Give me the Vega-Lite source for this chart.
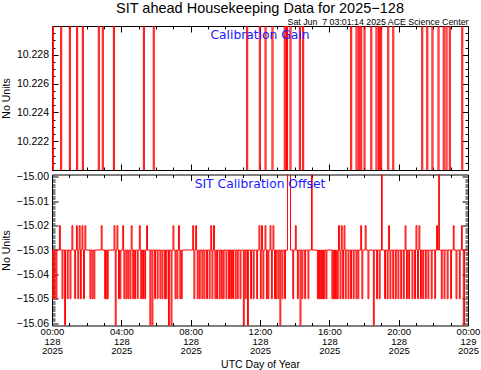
{
  "$schema": "https://vega.github.io/schema/vega-lite/v6.json",
  "background": "white",
  "padding": {"left": 1, "top": 0, "right": 5, "bottom": 0},
  "bounds": "flush",
  "spacing": 4.5,
  "config": {
    "font": "Liberation Sans",
    "view": {"stroke": null},
    "axis": {"labelFont": "Liberation Sans", "labelFontSize": 10.5, "titleFont": "Liberation Sans", "titleFontSize": 10.5, "titleFontWeight": "normal", "domainColor": "black", "tickColor": "black", "labelColor": "black", "titleColor": "black", "grid": false, "zindex": 1, "labelFlush": false, "labelOverlap": false, "labelBound": false, "tickWidth": 1, "domainWidth": 1}
  },
  "title": {"text": "SIT ahead Housekeeping Data for 2025−128", "fontSize": 14.5, "fontWeight": "normal", "anchor": "middle", "font": "Liberation Sans", "offset": 2, "frame": "group"},
  "datasets": {
    "gain": [
      {"h":0,"v":10.219},
      {"h":0.02,"v":10.231},{"h":0.08,"v":10.219},
      {"h":0.5,"v":10.231},{"h":0.56,"v":10.219},
      {"h":1.0,"v":10.231},{"h":1.06,"v":10.219},
      {"h":1.42,"v":10.231},{"h":1.48,"v":10.219},
      {"h":1.75,"v":10.231},{"h":1.81,"v":10.219},
      {"h":2.67,"v":10.231},{"h":2.73,"v":10.219},
      {"h":2.9,"v":10.231},{"h":2.96,"v":10.219},
      {"h":3.54,"v":10.231},{"h":3.6,"v":10.219},
      {"h":5.27,"v":10.231},{"h":5.33,"v":10.219},
      {"h":5.84,"v":10.231},{"h":5.9,"v":10.219},
      {"h":11.23,"v":10.231},{"h":11.29,"v":10.219},
      {"h":11.96,"v":10.231},{"h":12.02,"v":10.219},
      {"h":12.29,"v":10.231},{"h":12.35,"v":10.219},
      {"h":12.69,"v":10.231},{"h":12.75,"v":10.219},
      {"h":13.4,"v":10.231},{"h":13.46,"v":10.219},
      {"h":13.53,"v":10.231},{"h":13.59,"v":10.219},
      {"h":13.73,"v":10.231},{"h":13.79,"v":10.219},
      {"h":14.27,"v":10.231},{"h":14.33,"v":10.219},
      {"h":14.46,"v":10.231},{"h":14.52,"v":10.219},
      {"h":17.23,"v":10.231},{"h":17.29,"v":10.219},
      {"h":17.54,"v":10.231},{"h":17.6,"v":10.219},
      {"h":17.67,"v":10.231},{"h":17.73,"v":10.219},
      {"h":17.81,"v":10.231},{"h":17.87,"v":10.219},
      {"h":18.0,"v":10.231},{"h":18.06,"v":10.219},
      {"h":18.39,"v":10.231},{"h":18.45,"v":10.219},
      {"h":18.69,"v":10.231},{"h":18.75,"v":10.219},
      {"h":18.83,"v":10.231},{"h":18.89,"v":10.219},
      {"h":18.96,"v":10.231},{"h":19.02,"v":10.219},
      {"h":19.37,"v":10.231},{"h":19.43,"v":10.219},
      {"h":19.66,"v":10.231},{"h":19.72,"v":10.219},
      {"h":21.33,"v":10.231},{"h":21.39,"v":10.219},
      {"h":21.62,"v":10.231},{"h":21.68,"v":10.219},
      {"h":21.92,"v":10.231},{"h":21.98,"v":10.219},
      {"h":22.27,"v":10.231},{"h":22.33,"v":10.219},
      {"h":22.57,"v":10.231},{"h":22.63,"v":10.219},
      {"h":22.73,"v":10.231},{"h":22.79,"v":10.219},
      {"h":22.92,"v":10.231},{"h":22.98,"v":10.219},
      {"h":23.64,"v":10.231},{"h":23.7,"v":10.219},
      {"h":24,"v":10.219}
    ],
    "offset": [
      {"h":0,"v":-15.03},
      {"h":0.02,"v":-15.05},{"h":0.07,"v":-15.03},
      {"h":0.12,"v":-15.05},{"h":0.17,"v":-15.03},
      {"h":0.23,"v":-15.05},{"h":0.28,"v":-15.03},
      {"h":0.43,"v":-15.02},{"h":0.48,"v":-15.03},
      {"h":0.58,"v":-15.05},{"h":0.63,"v":-15.03},
      {"h":0.73,"v":-15.07},{"h":0.78,"v":-15.03},
      {"h":0.88,"v":-15.05},{"h":0.93,"v":-15.03},
      {"h":1.04,"v":-15.05},{"h":1.09,"v":-15.03},
      {"h":1.15,"v":-15.02},{"h":1.2,"v":-15.03},
      {"h":1.31,"v":-15.05},{"h":1.36,"v":-15.03},
      {"h":1.41,"v":-15.02},{"h":1.46,"v":-15.03},
      {"h":1.49,"v":-15.05},{"h":1.54,"v":-15.03},
      {"h":1.57,"v":-15.02},{"h":1.62,"v":-15.03},
      {"h":1.64,"v":-15.05},{"h":1.69,"v":-15.03},
      {"h":1.73,"v":-15.02},{"h":1.78,"v":-15.03},
      {"h":1.82,"v":-15.05},{"h":1.87,"v":-15.03},
      {"h":1.9,"v":-15.02},{"h":1.95,"v":-15.03},
      {"h":2.19,"v":-15.05},{"h":2.24,"v":-15.03},
      {"h":2.31,"v":-15.05},{"h":2.36,"v":-15.03},
      {"h":2.42,"v":-15.05},{"h":2.47,"v":-15.03},
      {"h":2.84,"v":-15.02},{"h":2.89,"v":-15.03},
      {"h":3.04,"v":-15.05},{"h":3.09,"v":-15.03},
      {"h":3.12,"v":-15.05},{"h":3.17,"v":-15.03},
      {"h":3.19,"v":-15.05},{"h":3.24,"v":-15.03},
      {"h":3.58,"v":-15.02},{"h":3.63,"v":-15.03},
      {"h":3.65,"v":-15.07},{"h":3.7,"v":-15.03},
      {"h":3.75,"v":-15.02},{"h":3.8,"v":-15.03},
      {"h":3.84,"v":-15.05},{"h":3.89,"v":-15.03},
      {"h":3.92,"v":-15.05},{"h":3.97,"v":-15.03},
      {"h":4.08,"v":-15.02},{"h":4.13,"v":-15.03},
      {"h":4.15,"v":-15.05},{"h":4.2,"v":-15.03},
      {"h":4.27,"v":-15.05},{"h":4.32,"v":-15.03},
      {"h":4.38,"v":-15.05},{"h":4.43,"v":-15.03},
      {"h":4.5,"v":-15.05},{"h":4.55,"v":-15.03},
      {"h":4.57,"v":-15.02},{"h":4.62,"v":-15.03},
      {"h":4.66,"v":-15.05},{"h":4.71,"v":-15.03},
      {"h":4.77,"v":-15.05},{"h":4.82,"v":-15.03},
      {"h":4.92,"v":-15.05},{"h":4.97,"v":-15.03},
      {"h":5.04,"v":-15.02},{"h":5.09,"v":-15.03},
      {"h":5.12,"v":-15.05},{"h":5.17,"v":-15.03},
      {"h":5.23,"v":-15.05},{"h":5.28,"v":-15.03},
      {"h":5.35,"v":-15.05},{"h":5.4,"v":-15.03},
      {"h":5.46,"v":-15.02},{"h":5.51,"v":-15.03},
      {"h":5.65,"v":-15.07},{"h":5.7,"v":-15.03},
      {"h":5.77,"v":-15.07},{"h":5.82,"v":-15.03},
      {"h":5.92,"v":-15.05},{"h":5.97,"v":-15.03},
      {"h":6.07,"v":-15.05},{"h":6.12,"v":-15.03},
      {"h":6.23,"v":-15.05},{"h":6.28,"v":-15.03},
      {"h":6.35,"v":-15.05},{"h":6.4,"v":-15.03},
      {"h":6.5,"v":-15.05},{"h":6.55,"v":-15.03},
      {"h":6.58,"v":-15.05},{"h":6.63,"v":-15.03},
      {"h":6.72,"v":-15.07},{"h":6.77,"v":-15.03},
      {"h":6.87,"v":-15.07},{"h":6.92,"v":-15.03},
      {"h":6.98,"v":-15.02},{"h":7.03,"v":-15.03},
      {"h":7.1,"v":-15.05},{"h":7.15,"v":-15.03},
      {"h":7.21,"v":-15.05},{"h":7.26,"v":-15.03},
      {"h":7.3,"v":-15.02},{"h":7.35,"v":-15.03},
      {"h":7.38,"v":-15.05},{"h":7.43,"v":-15.03},
      {"h":7.46,"v":-15.05},{"h":7.51,"v":-15.03},
      {"h":8.12,"v":-15.02},{"h":8.17,"v":-15.03},
      {"h":8.19,"v":-15.05},{"h":8.24,"v":-15.03},
      {"h":8.29,"v":-15.02},{"h":8.34,"v":-15.03},
      {"h":8.38,"v":-15.05},{"h":8.43,"v":-15.03},
      {"h":8.5,"v":-15.05},{"h":8.55,"v":-15.03},
      {"h":8.65,"v":-15.05},{"h":8.7,"v":-15.03},
      {"h":8.77,"v":-15.05},{"h":8.82,"v":-15.03},
      {"h":8.92,"v":-15.05},{"h":8.97,"v":-15.03},
      {"h":9.07,"v":-15.05},{"h":9.12,"v":-15.03},
      {"h":9.16,"v":-15.02},{"h":9.21,"v":-15.03},
      {"h":9.23,"v":-15.05},{"h":9.28,"v":-15.03},
      {"h":9.32,"v":-15.02},{"h":9.37,"v":-15.03},
      {"h":9.4,"v":-15.05},{"h":9.45,"v":-15.03},
      {"h":9.5,"v":-15.05},{"h":9.55,"v":-15.03},
      {"h":9.65,"v":-15.05},{"h":9.7,"v":-15.03},
      {"h":9.77,"v":-15.05},{"h":9.82,"v":-15.03},
      {"h":9.88,"v":-15.05},{"h":9.93,"v":-15.03},
      {"h":10.04,"v":-15.05},{"h":10.09,"v":-15.03},
      {"h":10.19,"v":-15.05},{"h":10.24,"v":-15.03},
      {"h":10.31,"v":-15.05},{"h":10.36,"v":-15.03},
      {"h":10.42,"v":-15.05},{"h":10.47,"v":-15.03},
      {"h":10.57,"v":-15.05},{"h":10.62,"v":-15.03},
      {"h":10.69,"v":-15.05},{"h":10.74,"v":-15.03},
      {"h":10.85,"v":-15.05},{"h":10.9,"v":-15.03},
      {"h":11.04,"v":-15.07},{"h":11.09,"v":-15.03},
      {"h":11.15,"v":-15.05},{"h":11.2,"v":-15.03},
      {"h":11.28,"v":-15.07},{"h":11.33,"v":-15.03},
      {"h":11.46,"v":-15.05},{"h":11.51,"v":-15.03},
      {"h":11.61,"v":-15.05},{"h":11.66,"v":-15.03},
      {"h":11.81,"v":-15.05},{"h":11.86,"v":-15.03},
      {"h":11.94,"v":-15.02},{"h":11.99,"v":-15.03},
      {"h":12.02,"v":-15.05},{"h":12.07,"v":-15.03},
      {"h":12.09,"v":-15.02},{"h":12.14,"v":-15.03},
      {"h":12.17,"v":-15.05},{"h":12.22,"v":-15.03},
      {"h":12.29,"v":-15.02},{"h":12.34,"v":-15.03},
      {"h":12.37,"v":-15.05},{"h":12.42,"v":-15.03},
      {"h":12.46,"v":-15.05},{"h":12.51,"v":-15.03},
      {"h":12.58,"v":-15.02},{"h":12.63,"v":-15.03},
      {"h":12.66,"v":-15.05},{"h":12.71,"v":-15.03},
      {"h":12.75,"v":-15.02},{"h":12.8,"v":-15.03},
      {"h":12.84,"v":-15.05},{"h":12.89,"v":-15.03},
      {"h":12.92,"v":-15.05},{"h":12.97,"v":-15.03},
      {"h":13.04,"v":-15.05},{"h":13.09,"v":-15.03},
      {"h":13.15,"v":-15.07},{"h":13.2,"v":-15.03},
      {"h":13.27,"v":-15.05},{"h":13.32,"v":-15.03},
      {"h":13.42,"v":-15.05},{"h":13.47,"v":-15.03},
      {"h":13.59,"v":-14.99},{"h":13.76,"v":-15.03},
      {"h":13.89,"v":-15.05},{"h":13.94,"v":-15.03},
      {"h":14.04,"v":-15.02},{"h":14.09,"v":-15.03},
      {"h":14.16,"v":-15.05},{"h":14.21,"v":-15.03},
      {"h":14.31,"v":-15.07},{"h":14.36,"v":-15.03},
      {"h":14.42,"v":-15.05},{"h":14.47,"v":-15.03},
      {"h":14.58,"v":-15.05},{"h":14.63,"v":-15.03},
      {"h":14.77,"v":-15.05},{"h":14.82,"v":-15.03},
      {"h":14.97,"v":-14.99},{"h":15.01,"v":-15.03},
      {"h":15.31,"v":-15.05},{"h":15.36,"v":-15.03},
      {"h":15.39,"v":-15.05},{"h":15.44,"v":-15.03},
      {"h":15.46,"v":-15.05},{"h":15.51,"v":-15.03},
      {"h":15.54,"v":-15.05},{"h":15.59,"v":-15.03},
      {"h":15.62,"v":-15.05},{"h":15.67,"v":-15.03},
      {"h":15.69,"v":-15.05},{"h":15.74,"v":-15.03},
      {"h":15.81,"v":-15.05},{"h":15.86,"v":-15.03},
      {"h":16.15,"v":-15.05},{"h":16.2,"v":-15.03},
      {"h":16.23,"v":-15.05},{"h":16.28,"v":-15.03},
      {"h":16.31,"v":-15.05},{"h":16.36,"v":-15.03},
      {"h":16.38,"v":-15.05},{"h":16.43,"v":-15.03},
      {"h":16.46,"v":-15.05},{"h":16.51,"v":-15.03},
      {"h":16.53,"v":-15.02},{"h":16.58,"v":-15.03},
      {"h":16.62,"v":-15.05},{"h":16.67,"v":-15.03},
      {"h":16.69,"v":-15.02},{"h":16.74,"v":-15.03},
      {"h":16.77,"v":-15.05},{"h":16.82,"v":-15.03},
      {"h":16.85,"v":-15.02},{"h":16.9,"v":-15.03},
      {"h":16.92,"v":-15.05},{"h":16.97,"v":-15.03},
      {"h":17.08,"v":-15.05},{"h":17.13,"v":-15.03},
      {"h":17.23,"v":-15.05},{"h":17.28,"v":-15.03},
      {"h":17.38,"v":-15.05},{"h":17.43,"v":-15.03},
      {"h":17.54,"v":-15.05},{"h":17.59,"v":-15.03},
      {"h":17.65,"v":-15.05},{"h":17.7,"v":-15.03},
      {"h":17.81,"v":-15.02},{"h":17.86,"v":-15.03},
      {"h":17.88,"v":-15.05},{"h":17.93,"v":-15.03},
      {"h":18.07,"v":-15.02},{"h":18.12,"v":-15.03},
      {"h":18.23,"v":-15.05},{"h":18.28,"v":-15.03},
      {"h":18.54,"v":-15.07},{"h":18.59,"v":-15.03},
      {"h":18.73,"v":-15.05},{"h":18.78,"v":-15.03},
      {"h":18.88,"v":-15.05},{"h":18.93,"v":-15.03},
      {"h":19.01,"v":-14.99},{"h":19.05,"v":-15.03},
      {"h":19.19,"v":-15.05},{"h":19.24,"v":-15.03},
      {"h":19.34,"v":-15.05},{"h":19.39,"v":-15.03},
      {"h":19.42,"v":-15.02},{"h":19.47,"v":-15.03},
      {"h":19.5,"v":-15.05},{"h":19.55,"v":-15.03},
      {"h":19.66,"v":-15.05},{"h":19.71,"v":-15.03},
      {"h":19.81,"v":-15.05},{"h":19.86,"v":-15.03},
      {"h":19.96,"v":-15.05},{"h":20.01,"v":-15.03},
      {"h":20.12,"v":-15.05},{"h":20.17,"v":-15.03},
      {"h":20.27,"v":-15.05},{"h":20.32,"v":-15.03},
      {"h":20.37,"v":-15.02},{"h":20.42,"v":-15.03},
      {"h":20.45,"v":-15.05},{"h":20.5,"v":-15.03},
      {"h":20.58,"v":-15.05},{"h":20.63,"v":-15.03},
      {"h":20.77,"v":-15.05},{"h":20.82,"v":-15.03},
      {"h":20.92,"v":-15.05},{"h":20.97,"v":-15.03},
      {"h":21.0,"v":-15.02},{"h":21.05,"v":-15.03},
      {"h":21.09,"v":-15.05},{"h":21.14,"v":-15.03},
      {"h":21.17,"v":-15.02},{"h":21.22,"v":-15.03},
      {"h":21.26,"v":-15.05},{"h":21.31,"v":-15.03},
      {"h":21.39,"v":-15.05},{"h":21.44,"v":-15.03},
      {"h":21.54,"v":-15.05},{"h":21.59,"v":-15.03},
      {"h":21.69,"v":-15.05},{"h":21.74,"v":-15.03},
      {"h":21.88,"v":-15.05},{"h":21.93,"v":-15.03},
      {"h":22.08,"v":-15.05},{"h":22.13,"v":-15.03},
      {"h":22.19,"v":-15.02},{"h":22.24,"v":-15.03},
      {"h":22.31,"v":-14.99},{"h":22.35,"v":-15.03},
      {"h":22.46,"v":-15.05},{"h":22.51,"v":-15.03},
      {"h":22.62,"v":-15.05},{"h":22.67,"v":-15.03},
      {"h":22.8,"v":-15.05},{"h":22.85,"v":-15.03},
      {"h":23.0,"v":-15.05},{"h":23.05,"v":-15.03},
      {"h":23.15,"v":-15.02},{"h":23.2,"v":-15.03},
      {"h":23.31,"v":-15.05},{"h":23.36,"v":-15.03},
      {"h":23.5,"v":-15.05},{"h":23.55,"v":-15.03},
      {"h":23.62,"v":-15.02},{"h":23.67,"v":-15.03},
      {"h":23.73,"v":-15.07},{"h":23.8,"v":-15.03},
      {"h":24,"v":-15.03}
    ]
  },
  "vconcat": [
    {
      "width": 416,
      "height": 144,
      "title": {"text": "Sat Jun\u00a0 7 03:01:14 2025 ACE Science Center", "anchor": "end", "fontSize": 8.8, "fontWeight": "normal", "offset": -6, "font": "Liberation Sans"},
      "layer": [
        {
          "data": {"name": "gain"},
          "mark": {"type": "line", "color": "#ff0000", "strokeWidth": 1, "interpolate": "step-after", "clip": true},
          "encoding": {
            "x": {"field": "h", "type": "quantitative", "scale": {"domain": [0, 24], "nice": false, "zero": false},
              "axis": {"orient": "bottom", "values": [0,1,2,3,4,5,6,7,8,9,10,11,12,13,14,15,16,17,18,19,20,21,22,23,24], "labels": false, "title": null,
                "tickSize": {"condition": {"test": "datum.value % 4 === 0", "value": -6}, "value": -3}}},
            "y": {"field": "v", "type": "quantitative", "scale": {"domain": [10.22, 10.23], "nice": false, "zero": false},
              "axis": {"orient": "left", "title": "No Units", "titlePadding": 5,
                "values": [10.22,10.2205,10.221,10.2215,10.222,10.2225,10.223,10.2235,10.224,10.2245,10.225,10.2255,10.226,10.2265,10.227,10.2275,10.228,10.2285,10.229,10.2295,10.23],
                "labelExpr": "abs(datum.value*500 - round(datum.value*500)) < 0.01 && datum.value > 10.2201 && datum.value < 10.2299 ? format(datum.value, '.3f') : ''",
                "labelPadding": 9.5,
                "tickSize": {"condition": {"test": "abs(datum.value*500 - round(datum.value*500)) < 0.01", "value": -6}, "value": -3}}}
          }
        },
        {
          "data": {"name": "gain"},
          "mark": {"type": "line", "opacity": 0, "clip": true},
          "encoding": {
            "x": {"field": "h", "type": "quantitative",
              "axis": {"orient": "top", "values": [0,1,2,3,4,5,6,7,8,9,10,11,12,13,14,15,16,17,18,19,20,21,22,23,24], "labels": false, "title": null,
                "tickSize": {"condition": {"test": "datum.value % 4 === 0", "value": -6}, "value": -3}}},
            "y": {"field": "v", "type": "quantitative",
              "axis": {"orient": "right", "title": null, "labels": false,
                "values": [10.22,10.2205,10.221,10.2215,10.222,10.2225,10.223,10.2235,10.224,10.2245,10.225,10.2255,10.226,10.2265,10.227,10.2275,10.228,10.2285,10.229,10.2295,10.23],
                "tickSize": {"condition": {"test": "abs(datum.value*500 - round(datum.value*500)) < 0.01", "value": -6}, "value": -3}}}
          }
        },
        {
          "data": {"values": [{"label": "Calibration Gain"}]},
          "mark": {"type": "text", "color": "#1a1aff", "fontSize": 12.3, "baseline": "middle", "align": "center", "font": "DejaVu Sans"},
          "encoding": {
            "x": {"datum": 12, "type": "quantitative", "axis": null},
            "y": {"datum": 10.2294, "type": "quantitative", "axis": null},
            "text": {"field": "label"}
          }
        }
      ],
      "resolve": {"axis": {"x": "independent", "y": "independent"}}
    },
    {
      "width": 416,
      "height": 151,
      "layer": [
        {
          "data": {"name": "offset"},
          "mark": {"type": "line", "color": "#ff0000", "strokeWidth": 1, "interpolate": "step-after", "clip": true},
          "encoding": {
            "x": {"field": "h", "type": "quantitative", "scale": {"domain": [0, 24], "nice": false, "zero": false},
              "axis": {"orient": "bottom", "values": [0,1,2,3,4,5,6,7,8,9,10,11,12,13,14,15,16,17,18,19,20,21,22,23,24], "title": "UTC Day of Year", "titlePadding": 4,
                "labelExpr": "datum.value % 4 === 0 ? [(datum.value % 24 < 10 ? '0' : '') + (datum.value % 24) + ':00', datum.value >= 24 ? '129' : '128', '2025'] : ''",
                "labelFontSize": 9.5, "labelLineHeight": 9.5, "labelBaseline": "top", "labelPadding": 7,
                "tickSize": {"condition": {"test": "datum.value % 4 === 0", "value": -6}, "value": -3}}},
            "y": {"field": "v", "type": "quantitative", "scale": {"domain": [-15.061, -14.999], "nice": false, "zero": false},
              "axis": {"orient": "left", "title": "No Units", "titlePadding": 5,
                "values": [-15.06,-15.059,-15.058,-15.057,-15.056,-15.055,-15.054,-15.053,-15.052,-15.051,-15.05,-15.049,-15.048,-15.047,-15.046,-15.045,-15.044,-15.043,-15.042,-15.041,-15.04,-15.039,-15.038,-15.037,-15.036,-15.035,-15.034,-15.033,-15.032,-15.031,-15.03,-15.029,-15.028,-15.027,-15.026,-15.025,-15.024,-15.023,-15.022,-15.021,-15.02,-15.019,-15.018,-15.017,-15.016,-15.015,-15.014,-15.013,-15.012,-15.011,-15.01,-15.009,-15.008,-15.007,-15.006,-15.005,-15.004,-15.003,-15.002,-15.001,-15.0],
                "labelExpr": "abs(datum.value*100 - round(datum.value*100)) < 0.01 ? format(datum.value, '.2f') : ''",
                "labelPadding": 9.5,
                "tickSize": {"condition": {"test": "abs(datum.value*100 - round(datum.value*100)) < 0.01", "value": -6}, "value": -3}}}
          }
        },
        {
          "data": {"name": "offset"},
          "mark": {"type": "line", "opacity": 0, "clip": true},
          "encoding": {
            "x": {"field": "h", "type": "quantitative",
              "axis": {"orient": "top", "values": [0,1,2,3,4,5,6,7,8,9,10,11,12,13,14,15,16,17,18,19,20,21,22,23,24], "labels": false, "title": null,
                "tickSize": {"condition": {"test": "datum.value % 4 === 0", "value": -6}, "value": -3}}},
            "y": {"field": "v", "type": "quantitative",
              "axis": {"orient": "right", "title": null, "labels": false,
                "values": [-15.06,-15.059,-15.058,-15.057,-15.056,-15.055,-15.054,-15.053,-15.052,-15.051,-15.05,-15.049,-15.048,-15.047,-15.046,-15.045,-15.044,-15.043,-15.042,-15.041,-15.04,-15.039,-15.038,-15.037,-15.036,-15.035,-15.034,-15.033,-15.032,-15.031,-15.03,-15.029,-15.028,-15.027,-15.026,-15.025,-15.024,-15.023,-15.022,-15.021,-15.02,-15.019,-15.018,-15.017,-15.016,-15.015,-15.014,-15.013,-15.012,-15.011,-15.01,-15.009,-15.008,-15.007,-15.006,-15.005,-15.004,-15.003,-15.002,-15.001,-15.0],
                "tickSize": {"condition": {"test": "abs(datum.value*100 - round(datum.value*100)) < 0.01", "value": -6}, "value": -3}}}
          }
        },
        {
          "data": {"values": [{"label": "SIT Calibration Offset"}]},
          "mark": {"type": "text", "color": "#1a1aff", "fontSize": 12.3, "baseline": "middle", "align": "center", "font": "DejaVu Sans"},
          "encoding": {
            "x": {"datum": 12, "type": "quantitative", "axis": null},
            "y": {"datum": -15.0027, "type": "quantitative", "axis": null},
            "text": {"field": "label"}
          }
        }
      ],
      "resolve": {"axis": {"x": "independent", "y": "independent"}}
    }
  ]
}
